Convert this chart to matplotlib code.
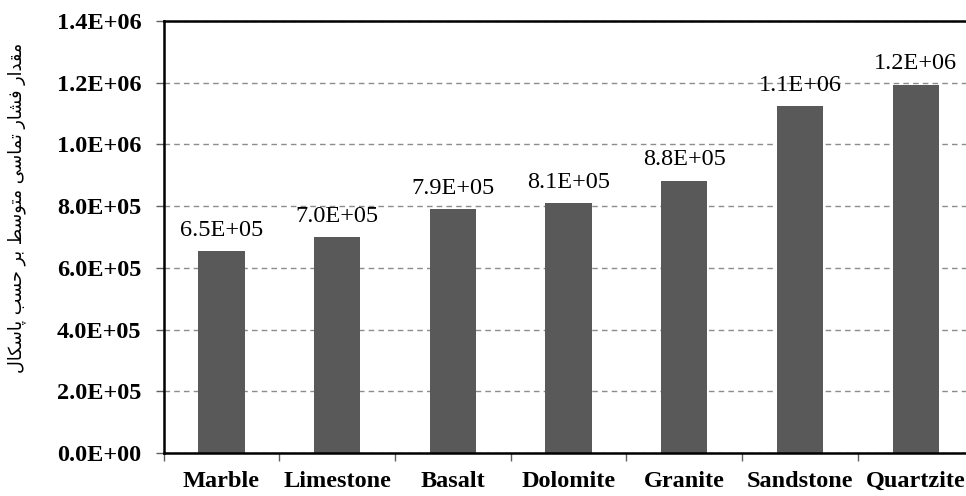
import numpy as np
import matplotlib
matplotlib.use('Agg')
import matplotlib.pyplot as plt
from matplotlib.ticker import FuncFormatter

rocks = ['Marble', 'Limestone', 'Basalt', 'Dolomite', 'Granite', 'Sandstone', 'Quartzite']
pressure = [6.54e5, 7.0e5, 7.9e5, 8.1e5, 8.83e5, 1.124e6, 1.194e6]
yticks = [0, 2e5, 4e5, 6e5, 8e5, 1.0e6, 1.2e6, 1.4e6]

# persian y label, shaped by hand (presentation forms), logical order per word
words = [
    [0xFEE3, 0xFED8, 0xFEAA, 0xFE8D, 0xFEAD],          # مقدار
    [0xFED3, 0xFEB8, 0xFE8E, 0xFEAD],                  # فشار
    [0xFE97, 0xFEE4, 0xFE8E, 0xFEB3, 0xFEF0],          # تماسی
    [0xFEE3, 0xFE98, 0xFEEE, 0xFEB3, 0xFEC2],          # متوسط
    [0xFE91, 0xFEAE],                                  # بر
    [0xFEA3, 0xFEB4, 0xFE90],                          # حسب
    [0xFB58, 0xFE8E, 0xFEB3, 0xFB91, 0xFE8E, 0xFEDD],  # پاسکال
]
ylabel = ' '.join(''.join(chr(c) for c in w) for w in words)[::-1]

serif = ['Liberation Serif', 'DejaVu Serif']

fig = plt.figure(figsize=(9.66, 4.96), dpi=100)
ax = fig.add_axes([163.6 / 966, 43 / 496, 810 / 966, 432 / 496])

x = np.arange(len(rocks))
bars = ax.bar(x, pressure, width=0.4, color='#595959', zorder=2)
ax.bar_label(bars, fmt='{:.1E}', padding=7.5, fontsize=17.5, family=serif)

ax.set_xlim(-0.5, len(rocks) - 0.5)
ax.set_ylim(0, 1.4e6)
ax.set_yticks(yticks)
ax.yaxis.set_major_formatter(FuncFormatter(lambda v, p: f'{v:.1E}'))
for lab in ax.get_yticklabels():
    lab.set_fontfamily(serif)
    lab.set_fontweight('bold')
    lab.set_fontsize(17.5)

# tick marks on category boundaries, labels at centres
ax.set_xticks(np.arange(-0.5, len(rocks), 1))
ax.set_xticklabels([])
ax.set_xticks(x, minor=True)
ax.set_xticklabels(rocks, minor=True, fontsize=17.5, fontweight='bold', family=serif)
ax.tick_params(axis='x', which='minor', length=0, pad=13)
ax.tick_params(axis='x', which='major', length=6, width=1, color='#606060', direction='out')
ax.tick_params(axis='y', length=6, width=1, color='#606060', pad=10)

ax.grid(axis='y', color='#8c8c8c', linestyle=(0, (4, 3)), linewidth=1)
ax.set_axisbelow(True)
for side in ['left', 'bottom', 'top', 'right']:
    ax.spines[side].set_linewidth(1.8)
    ax.spines[side].set_color('black')

fig.text(17 / 966, 1 - 208 / 496, ylabel, rotation=90, ha='center', va='center',
         fontsize=12.7, family=['DejaVu Sans'])

fig.savefig('out.png', dpi=100)
